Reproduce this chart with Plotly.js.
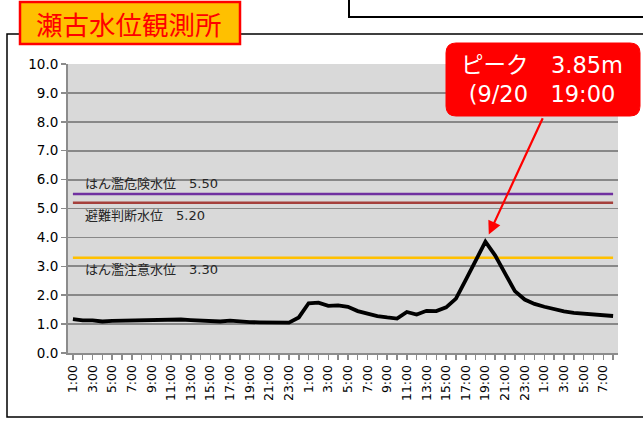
<!DOCTYPE html>
<html>
<head>
<meta charset="utf-8">
<script src="https://cdn.plot.ly/plotly-3.0.1.min.js"></script>
<style>html,body{margin:0;padding:0;background:#fff;}#chart{width:643px;height:421px;}</style>
</head>
<body>
<div id="chart"></div>
<script>
// Hourly observation times 9/19 1:00 ... 9/21 8:00
var times = [
 "1:00","2:00","3:00","4:00","5:00","6:00","7:00","8:00","9:00","10:00","11:00","12:00",
 "13:00","14:00","15:00","16:00","17:00","18:00","19:00","20:00","21:00","22:00","23:00","0:00",
 "1:00","2:00","3:00","4:00","5:00","6:00","7:00","8:00","9:00","10:00","11:00","12:00",
 "13:00","14:00","15:00","16:00","17:00","18:00","19:00","20:00","21:00","22:00","23:00","0:00",
 "1:00","2:00","3:00","4:00","5:00","6:00","7:00","8:00"
];
// labels shown on the axis (every second hour)
var tickLabels = [
 "1:00","","3:00","","5:00","","7:00","","9:00","","11:00","",
 "13:00","","15:00","","17:00","","19:00","","21:00","","23:00","",
 "1:00","","3:00","","5:00","","7:00","","9:00","","11:00","",
 "13:00","","15:00","","17:00","","19:00","","21:00","","23:00","",
 "1:00","","3:00","","5:00","","7:00",""
];
var waterLevel = [
 1.17,1.13,1.13,1.09,1.11,1.12,1.12,1.14,1.13,1.17,1.16,1.16,
 1.14,1.12,1.12,1.09,1.12,1.08,1.07,1.06,1.06,1.05,1.05,1.23,
 1.72,1.74,1.63,1.65,1.60,1.45,1.35,1.28,1.23,1.19,1.42,1.33,
 1.46,1.45,1.58,1.88,2.53,3.19,3.85,3.37,2.76,2.14,1.85,1.70,
 1.60,1.51,1.44,1.39,1.36,1.33,1.30,1.28
];
var dangerLevel = 5.50;     // はん濫危険水位
var evacuationLevel = 5.20; // 避難判断水位
var warningLevel = 3.30;    // はん濫注意水位
var peakIndex = 42;
var peakValue = 3.85;

var idx = times.map(function(_, i){ return i; });
function flat(v){ return times.map(function(){ return v; }); }

var FONT = "DejaVu Sans, 'Noto Sans CJK JP', sans-serif";

var traces = [
 {x: idx, y: flat(dangerLevel), mode: 'lines', line: {color: '#7030A0', width: 2.5}, hoverinfo: 'skip'},
 {x: idx, y: flat(evacuationLevel), mode: 'lines', line: {color: '#A5403C', width: 2.5}, hoverinfo: 'skip'},
 {x: idx, y: flat(warningLevel), mode: 'lines', line: {color: '#FFC000', width: 2.5}, hoverinfo: 'skip'},
 {x: idx, y: waterLevel, mode: 'lines', line: {color: '#000000', width: 3.8}}
];

// plot area pixel geometry helpers (paper coords)
var L = 68, R = 618, T = 64, B = 353;
function P(px){ return (px - L) / (R - L); }
function Q(py){ return (B - py) / (B - T); }

function roundRect(x0, y0, x1, y1, r){
  var rx = r / (R - L), ry = r / (B - T);
  var a = P(x0), b = P(x1), c = Q(y0), d = Q(y1); // c top, d bottom
  return 'M' + (a+rx) + ',' + c +
    ' L' + (b-rx) + ',' + c +
    ' Q' + b + ',' + c + ' ' + b + ',' + (c-ry) +
    ' L' + b + ',' + (d+ry) +
    ' Q' + b + ',' + d + ' ' + (b-rx) + ',' + d +
    ' L' + (a+rx) + ',' + d +
    ' Q' + a + ',' + d + ' ' + a + ',' + (d+ry) +
    ' L' + a + ',' + (c-ry) +
    ' Q' + a + ',' + c + ' ' + (a+rx) + ',' + c + ' Z';
}

var layout = {
  width: 643, height: 421,
  margin: {l: L, r: 643 - R, t: T, b: 421 - B},
  paper_bgcolor: '#ffffff',
  plot_bgcolor: '#D9D9D9',
  showlegend: false,
  font: {family: FONT, color: '#000'},
  xaxis: {
    range: [-0.5, times.length - 0.5],
    tickmode: 'array', tickvals: idx, ticktext: tickLabels,
    tickangle: -90, tickfont: {size: 12.5, color: '#000', family: FONT},
    ticks: 'outside', ticklen: 5, tickcolor: '#8C8C8C', tickwidth: 1.5,
    showgrid: false, zeroline: false,
    showline: true, linecolor: '#8C8C8C', linewidth: 2,
    fixedrange: true
  },
  yaxis: {
    range: [0, 10], dtick: 1, tick0: 0, tickformat: '.1f',
    tickfont: {size: 13.5, color: '#000', family: FONT},
    ticks: 'outside', ticklen: 5, tickcolor: '#8C8C8C', tickwidth: 1.5,
    showgrid: true, gridcolor: '#888888', gridwidth: 1.8,
    zeroline: false,
    showline: true, linecolor: '#8C8C8C', linewidth: 2,
    fixedrange: true
  },
  shapes: [
    // outer frame
    {type: 'rect', xref: 'paper', yref: 'paper', x0: P(7), x1: P(700), y0: Q(34), y1: Q(417),
     line: {color: '#000', width: 1.5}, fillcolor: 'rgba(0,0,0,0)', layer: 'above'},
    // top-right box
    {type: 'rect', xref: 'paper', yref: 'paper', x0: P(349), x1: P(700), y0: Q(-20), y1: Q(17),
     line: {color: '#000', width: 2}, fillcolor: '#ffffff', layer: 'above'},
    // title box
    {type: 'rect', xref: 'paper', yref: 'paper', x0: P(20), x1: P(240), y0: Q(2), y1: Q(44),
     line: {color: '#FF0000', width: 2.5}, fillcolor: '#FFC000', layer: 'above'},
    // peak callout box
    {type: 'path', xref: 'paper', yref: 'paper', path: roundRect(446, 43, 640, 116, 10),
     line: {color: '#FF0000', width: 1}, fillcolor: '#FF0000', layer: 'above'}
  ],
  annotations: [
    {xref: 'paper', yref: 'paper', x: P(129), y: Q(23), text: '瀬古水位観測所', showarrow: false,
     xanchor: 'center', yanchor: 'middle', font: {size: 26.5, color: '#FF0000', family: "'Noto Sans CJK JP', sans-serif"}},
    {xref: 'paper', yref: 'paper', x: P(542), y: Q(80), text: 'ピーク　3.85m<br>(9/20　19:00', showarrow: false,
     xanchor: 'center', yanchor: 'middle', align: 'center', font: {size: 22.5, color: '#ffffff', family: FONT}},
    {x: peakIndex, y: peakValue, xref: 'x', yref: 'y', text: '', showarrow: true,
     ax: 58, ay: -125, arrowcolor: '#FF0000', arrowwidth: 2.2, arrowhead: 2, arrowsize: 1.2, standoff: 8},
    {xref: 'paper', yref: 'paper', x: P(83), y: Q(183), text: 'はん濫危険水位　' + dangerLevel.toFixed(2), showarrow: false,
     xanchor: 'left', yanchor: 'middle', font: {size: 13, color: '#262626', family: FONT}},
    {xref: 'paper', yref: 'paper', x: P(83), y: Q(215), text: '避難判断水位　' + evacuationLevel.toFixed(2), showarrow: false,
     xanchor: 'left', yanchor: 'middle', font: {size: 13, color: '#262626', family: FONT}},
    {xref: 'paper', yref: 'paper', x: P(83), y: Q(269), text: 'はん濫注意水位　' + warningLevel.toFixed(2), showarrow: false,
     xanchor: 'left', yanchor: 'middle', font: {size: 13, color: '#262626', family: FONT}}
  ]
};

Plotly.newPlot('chart', traces, layout, {staticPlot: true, displayModeBar: false});
</script>
</body>
</html>
